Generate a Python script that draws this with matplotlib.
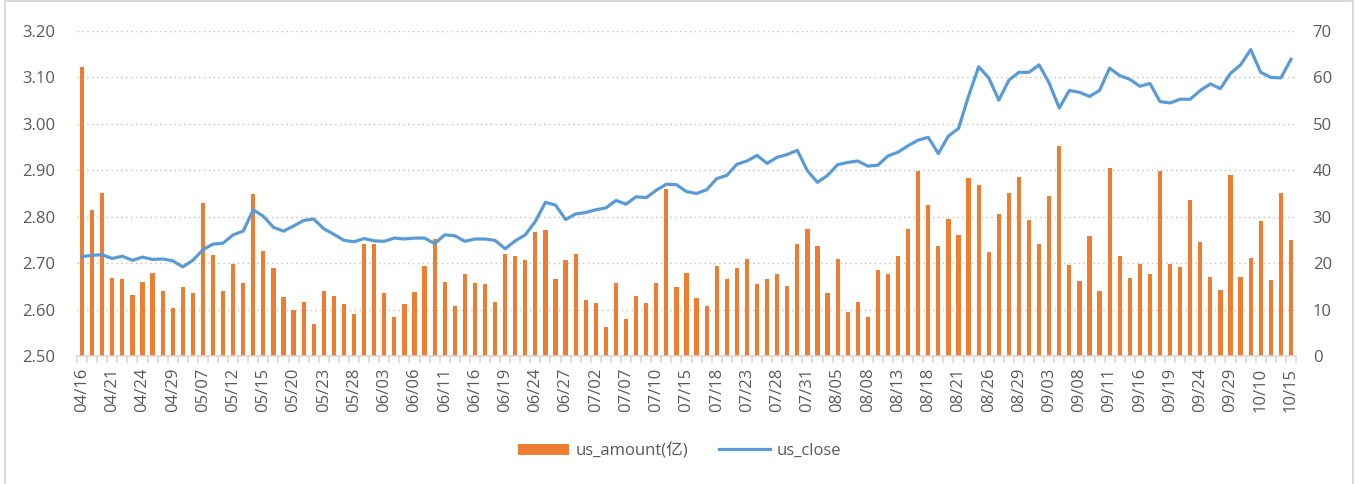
import numpy as np
import matplotlib.pyplot as plt
from matplotlib.patches import Rectangle

plt.rcParams['font.family'] = ['Open Sans', 'Noto Sans CJK SC', 'DejaVu Sans']

# trading days (2025)
dates = ['04/16', '04/17', '04/18', '04/21', '04/22', '04/23', '04/24', '04/25', '04/28', '04/29',
         '04/30', '05/06', '05/07', '05/08', '05/09', '05/12', '05/13', '05/14', '05/15', '05/16',
         '05/19', '05/20', '05/21', '05/22', '05/23', '05/26', '05/27', '05/28', '05/29', '05/30',
         '06/03', '06/04', '06/05', '06/06', '06/09', '06/10', '06/11', '06/12', '06/13', '06/16',
         '06/17', '06/18', '06/19', '06/20', '06/23', '06/24', '06/25', '06/26', '06/27', '06/30',
         '07/01', '07/02', '07/03', '07/04', '07/07', '07/08', '07/09', '07/10', '07/11', '07/14',
         '07/15', '07/16', '07/17', '07/18', '07/21', '07/22', '07/23', '07/24', '07/25', '07/28',
         '07/29', '07/30', '07/31', '08/01', '08/04', '08/05', '08/06', '08/07', '08/08', '08/11',
         '08/12', '08/13', '08/14', '08/15', '08/18', '08/19', '08/20', '08/21', '08/22', '08/25',
         '08/26', '08/27', '08/28', '08/29', '09/01', '09/02', '09/03', '09/04', '09/05', '09/08',
         '09/09', '09/10', '09/11', '09/12', '09/15', '09/16', '09/17', '09/18', '09/19', '09/22',
         '09/23', '09/24', '09/25', '09/26', '09/29', '09/30', '10/09', '10/10', '10/13', '10/14',
         '10/15']

us_amount = [62.3, 31.5, 35.2, 16.9, 16.5, 13.2, 15.9, 17.9, 13.9, 10.3,
             14.8, 13.5, 33.0, 21.7, 13.9, 19.9, 15.7, 35.0, 22.6, 19.0,
             12.7, 10.0, 11.7, 6.8, 13.9, 12.9, 11.3, 9.0, 24.2, 24.1,
             13.6, 8.5, 11.3, 13.7, 19.4, 25.1, 15.9, 10.7, 17.7, 15.7,
             15.6, 11.6, 21.9, 21.5, 20.6, 26.7, 27.2, 16.6, 20.6, 21.9,
             12.1, 11.4, 6.3, 15.8, 8.0, 12.9, 11.4, 15.8, 35.9, 14.9,
             17.9, 12.6, 10.7, 19.3, 16.5, 18.9, 21.0, 15.6, 16.5, 17.6,
             15.1, 24.2, 27.4, 23.6, 13.6, 20.8, 9.4, 11.6, 8.4, 18.5,
             17.7, 21.6, 27.4, 39.9, 32.5, 23.6, 29.5, 26.0, 38.3, 36.8,
             22.4, 30.5, 35.1, 38.5, 29.2, 24.2, 34.5, 45.3, 19.6, 16.2,
             25.9, 13.9, 40.4, 21.5, 16.7, 19.8, 17.7, 39.8, 19.8, 19.1,
             33.5, 24.6, 17.0, 14.2, 39.0, 17.1, 21.1, 29.0, 16.4, 35.1,
             24.9]

us_close = [2.714, 2.717, 2.718, 2.710, 2.715, 2.706, 2.713, 2.708, 2.709, 2.705,
            2.692, 2.706, 2.729, 2.741, 2.743, 2.761, 2.769, 2.815, 2.801, 2.777,
            2.769, 2.780, 2.792, 2.795, 2.774, 2.762, 2.749, 2.746, 2.753, 2.748,
            2.747, 2.754, 2.752, 2.754, 2.754, 2.742, 2.761, 2.759, 2.747, 2.752,
            2.752, 2.749, 2.731, 2.748, 2.761, 2.790, 2.831, 2.825, 2.794, 2.806,
            2.809, 2.815, 2.819, 2.835, 2.827, 2.843, 2.841, 2.857, 2.870, 2.869,
            2.854, 2.850, 2.858, 2.882, 2.889, 2.913, 2.920, 2.932, 2.915, 2.928,
            2.934, 2.943, 2.899, 2.874, 2.889, 2.912, 2.917, 2.920, 2.909, 2.911,
            2.931, 2.939, 2.953, 2.965, 2.971, 2.936, 2.974, 2.990, 3.060, 3.123,
            3.099, 3.051, 3.094, 3.111, 3.111, 3.127, 3.088, 3.034, 3.072, 3.068,
            3.059, 3.072, 3.120, 3.104, 3.096, 3.081, 3.087, 3.048, 3.045, 3.053,
            3.053, 3.072, 3.086, 3.076, 3.109, 3.127, 3.160, 3.111, 3.100, 3.099,
            3.139]

grey = '#595959'
x = np.arange(len(dates))

fig = plt.figure(figsize=(13.59, 4.84), dpi=100)
ax = fig.add_axes([77 / 1359, 1 - 356 / 484, (1296 - 77) / 1359, (356 - 31) / 484])
ax2 = ax.twinx()

# bars on the right axis, close line on the left axis
bars = ax2.bar(x, us_amount, width=0.42, color='#ED7D31', label='us_amount(亿)', zorder=2)
line, = ax.plot(x, us_close, color='#5B9BD5', lw=2.3, label='us_close', zorder=3,
                solid_joinstyle='round')
ax.set_zorder(ax2.get_zorder() + 1)
ax.patch.set_visible(False)

ax.set_ylim(2.5, 3.2)
ax.set_yticks(np.arange(2.5, 3.21, 0.1))
ax.set_yticklabels(['%.2f' % v for v in np.arange(2.5, 3.21, 0.1)])
ax2.set_ylim(0, 70)
ax2.set_yticks(range(0, 71, 10))
ax.set_xlim(-0.5, len(dates) - 0.5)

for a in (ax, ax2):
    for s in a.spines.values():
        s.set_visible(False)
    a.tick_params(axis='y', length=0, labelsize=12, labelcolor=grey)
ax.tick_params(axis='y', pad=15.5)
ax2.tick_params(axis='y', pad=12)
ax2.grid(axis='y', color='#BFBFBF', linestyle=(0, (1, 2.5)), lw=1)
ax.spines['bottom'].set_visible(True)
ax.spines['bottom'].set_color('#D9D9D9')
ax.spines['bottom'].set_linewidth(1.2)

ax.set_xticks(x[::3])
ax.set_xticklabels(dates[::3], rotation=90, fontsize=12, color=grey)
ax.set_xticks(np.arange(-0.5, len(dates), 1), minor=True)
ax.tick_params(axis='x', which='major', length=0, pad=8.5)
ax.tick_params(axis='x', which='minor', length=5, color='#D9D9D9', width=1.2)

fig.legend([bars, line], ['us_amount(亿)', 'us_close'], loc='center', bbox_to_anchor=(0.5, 1 - 451 / 484),
           ncol=2, frameon=False, fontsize=12, labelcolor=grey, handlelength=3.1,
           columnspacing=1.8, handletextpad=0.4)

fig.patches.append(Rectangle((5 / 1359, -0.01), (1353 - 5) / 1359, 1 - 1 / 484 + 0.01,
                             transform=fig.transFigure, fill=False, edgecolor='#D9D9D9', lw=1.5))

fig.savefig('out.png', dpi=100)
